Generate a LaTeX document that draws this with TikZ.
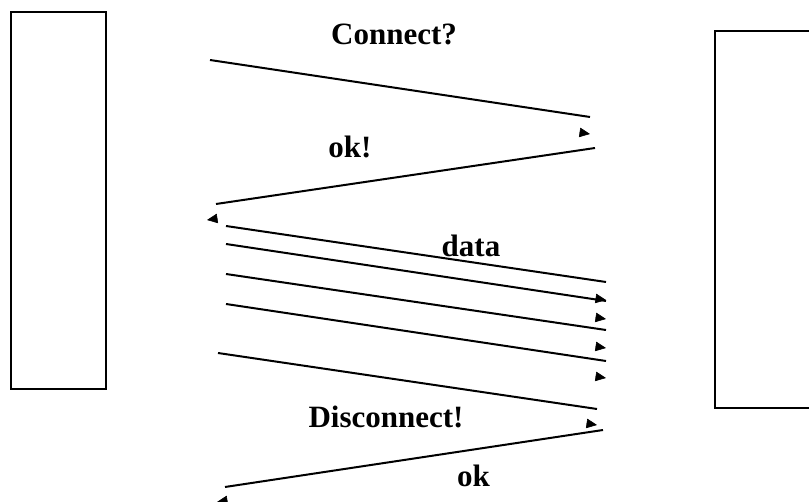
\documentclass[tikz,border=0pt]{standalone}
\usepackage{fontspec}
\setmainfont{Liberation Serif}
\usetikzlibrary{arrows.meta,calc}

% one message: the line itself, and its arrowhead set a little apart from the end
\newcommand\sendmsg[4]{%
  \draw[msgline] (#1) -- (#2);
  \draw[tipmark, transform canvas={shift={(#3,#4)}}] ($(#2)!10pt!(#1)$) -- (#2);
}

\begin{document}
\begin{tikzpicture}[x=1pt,y=-1pt,
  host/.style={draw, line width=2pt, minimum width=95pt, minimum height=377pt,
               inner sep=0pt, outer sep=0pt},
  msgline/.style={line width=2pt},
  tipmark/.style={line width=0.6pt, line cap=butt,
                  -{Triangle[length=10.5pt, width=9.5pt]}},
  lbl/.style={font=\fontsize{31}{36}\selectfont\bfseries, anchor=base, inner sep=0pt},
]
\useasboundingbox (0,0) rectangle (809,502);
\clip (0,0) rectangle (809,502);
\fill[white] (0,0) rectangle (809,502);

% the two communicating hosts
\node[host] (client) at (58.5,200.5) {};
\node[host, minimum width=100pt] (server) at (765,219.5) {};

% end points of the messages
\coordinate (c1s) at (210,60);   \coordinate (c1e) at (590,117);
\coordinate (c2s) at (595,148);  \coordinate (c2e) at (216,204);
\coordinate (d1s) at (226,226);  \coordinate (d1e) at (606,282);
\coordinate (d2s) at (226,244);  \coordinate (d2e) at (606,301);
\coordinate (d3s) at (226,274);  \coordinate (d3e) at (606,330);
\coordinate (d4s) at (226,304);  \coordinate (d4e) at (606,361);
\coordinate (d5s) at (218,353);  \coordinate (d5e) at (597,409);
\coordinate (d6s) at (603,430);  \coordinate (d6e) at (225,487);

% connection set-up
\sendmsg{c1s}{c1e}{0}{17}
\sendmsg{c2s}{c2e}{-9}{16}
% data transfer
\sendmsg{d1s}{d1e}{0}{18}
\sendmsg{d2s}{d2e}{0}{18}
\sendmsg{d3s}{d3e}{0}{18}
\sendmsg{d4s}{d4e}{0}{17}
% tear-down
\sendmsg{d5s}{d5e}{0}{16}
\sendmsg{d6s}{d6e}{-8}{15}

% message labels
\node[lbl] (lconnect) at (394,45) {Connect?};
\node[lbl] (lok1) at (350,158) {ok!};
\node[lbl] (ldata) at (471,257) {data};
\node[lbl] (ldisc) at (386,428) {Disconnect!};
\node[lbl] (lok2) at (473.5,487) {ok};
\end{tikzpicture}
\end{document}
